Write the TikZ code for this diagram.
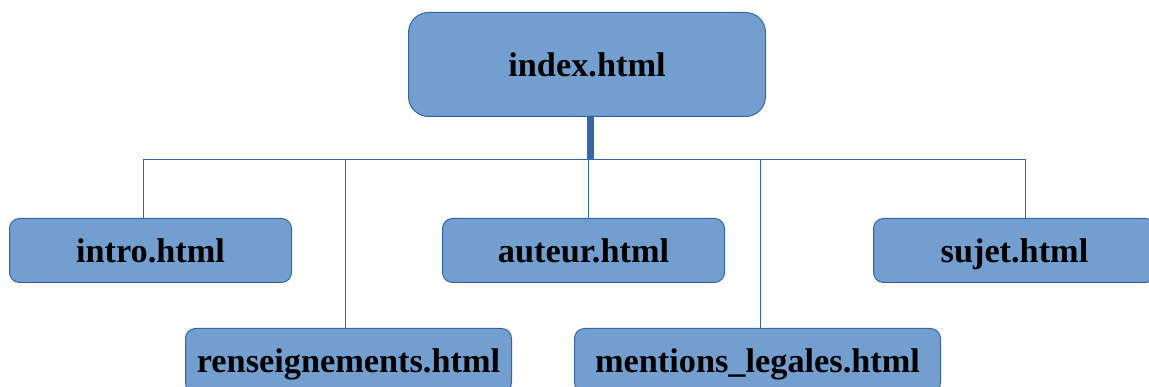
\documentclass[tikz,border=0pt]{standalone}
\usepackage{fontspec}
\setmainfont{Liberation Serif}
\definecolor{boxfill}{HTML}{729FCF}
\definecolor{boxline}{HTML}{3465A4}
\begin{document}
\begin{tikzpicture}[x=1pt,y=-1pt,
  page/.style={draw=boxline,fill=boxfill,line width=1pt,rounded corners=10pt,
    inner sep=0pt,anchor=north west,
    font=\fontsize{34.3}{40}\selectfont\bfseries,text height=24pt,text depth=0pt},
  link/.style={draw=boxline,line width=1pt}]
\useasboundingbox (0,0) rectangle (1149,387);
\node[page,rounded corners=20pt,minimum width=357pt,minimum height=104pt] (index) at (408,12) {index.html};
\node[page,minimum width=282pt,minimum height=64pt] (intro) at (9,218) {intro.html};
\node[page,minimum width=282pt,minimum height=64pt] (auteur) at (442,218) {auteur.html};
\node[page,minimum width=282pt,minimum height=64pt] (sujet) at (873,218) {sujet.html};
\node[page,minimum width=326pt,minimum height=64pt] (rens) at (185,328) {renseignements.html};
\node[page,minimum width=366pt,minimum height=64pt] (ment) at (574,328) {mentions\_legales.html};
\coordinate (hub) at (590.5,160);
\coordinate (b1) at (143,160);
\coordinate (b2) at (345.5,160);
\coordinate (b3) at (588.5,160);
\coordinate (b4) at (760,160);
\coordinate (b5) at (1025.5,160);
\draw[boxline,line width=7pt] (index.south -| hub) -- (hub);
\draw[link] (b1) -- (b5);
\draw[link] (b1) -- (b1 |- intro.north);
\draw[link] (b2) -- (b2 |- rens.north);
\draw[link] (b3) -- (b3 |- auteur.north);
\draw[link] (b4) -- (b4 |- ment.north);
\draw[link] (b5) -- (b5 |- sujet.north);
\end{tikzpicture}
\end{document}
